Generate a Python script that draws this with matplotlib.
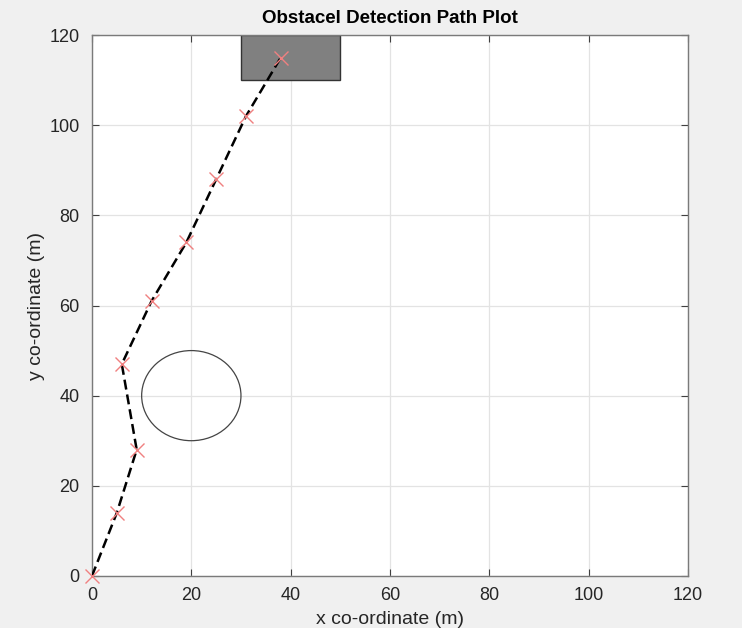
import matplotlib
matplotlib.use('Agg')
import matplotlib.pyplot as plt
from matplotlib.patches import Circle, Rectangle

plt.rcParams['font.family'] = ['Liberation Sans', 'DejaVu Sans']

# path waypoints
path_x = [0, 5, 9, 6, 12, 19, 25, 31, 38]
path_y = [0, 14, 28, 47, 61, 74, 88, 102, 115]

# obstacle and goal region
obstacle_center = (20, 40)
obstacle_radius = 10
goal_x = [30, 50]
goal_y = [110, 120]

ticks = [0, 20, 40, 60, 80, 100, 120]

fig = plt.figure(figsize=(7.42, 6.28), dpi=100, facecolor='#f0f0f0')
ax = fig.add_axes([0.124, 0.083, 0.803, 0.861])
ax.set_facecolor('white')

ax.add_patch(Rectangle((goal_x[0], goal_y[0]), goal_x[1] - goal_x[0], goal_y[1] - goal_y[0],
                       facecolor='#808080', edgecolor='#333333', linewidth=1, zorder=2))
ax.add_patch(Circle(obstacle_center, obstacle_radius, fill=False,
                    edgecolor='#444444', linewidth=0.9, zorder=2))

ax.plot(path_x, path_y, color='black', linestyle='--', linewidth=1.8, dashes=(4, 2), zorder=3)
ax.plot(path_x, path_y, linestyle='none', marker='x', markersize=10,
        markeredgewidth=1.0, color='#f08080', zorder=4, clip_on=False)

ax.set_xlim(0, 120)
ax.set_ylim(0, 120)
ax.set_xticks(ticks)
ax.set_yticks(ticks)
ax.grid(True, color='#e3e3e3', linewidth=0.9)
ax.set_axisbelow(True)
ax.tick_params(direction='in', top=True, right=True, labelsize=13,
               colors='#404040', length=5, width=0.8, labelcolor='#262626')
ax.tick_params(axis='x', pad=8)
ax.tick_params(axis='y', pad=9)
for s in ax.spines.values():
    s.set_color('#7a7a7a')
    s.set_linewidth(1.0)

ax.set_title('Obstacel Detection Path Plot', fontsize=13.5, fontweight='bold', pad=9)
ax.set_xlabel('x co-ordinate (m)', fontsize=14, labelpad=5, color='#262626')
ax.set_ylabel('y co-ordinate (m)', fontsize=14, labelpad=3, color='#262626')

fig.savefig('out.png', dpi=100, facecolor=fig.get_facecolor())
